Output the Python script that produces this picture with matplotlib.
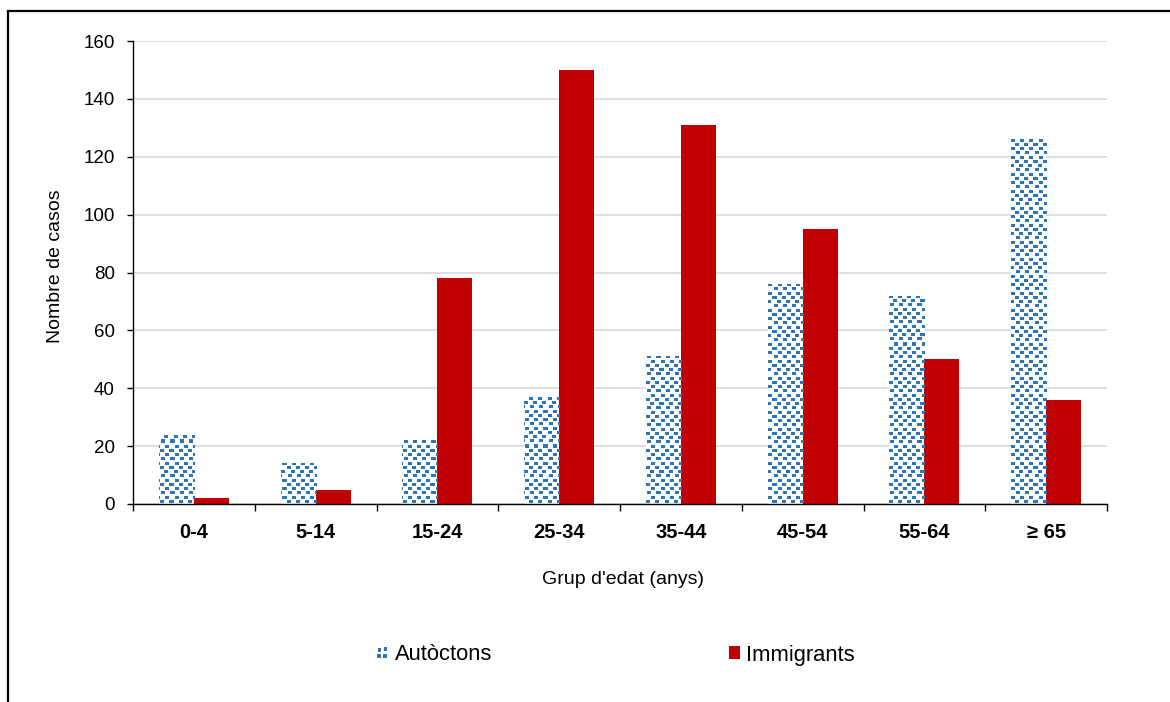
import numpy as np
import matplotlib
matplotlib.use("Agg")
import matplotlib.pyplot as plt
from matplotlib.patches import Rectangle
from matplotlib.lines import Line2D
from matplotlib.legend_handler import HandlerBase

plt.rcParams['font.family'] = ['Liberation Sans', 'DejaVu Sans']

# Cases by age group
age_groups = ['0-4', '5-14', '15-24', '25-34', '35-44', '45-54', '55-64', '≥ 65']
autoctons = [24, 14, 22, 37, 51, 76, 72, 126]
immigrants = [2, 5, 78, 150, 131, 95, 50, 36]
y_ticks = [0, 20, 40, 60, 80, 100, 120, 140, 160]

BLUE = '#2E75B6'
RED = '#C00000'

W_PX, H_PX = 1170, 702
fig = plt.figure(figsize=(W_PX / 100, H_PX / 100), dpi=100)

ax_l, ax_r, ax_t, ax_b = 133, 1107, 41, 504
ax = fig.add_axes([ax_l / W_PX, 1 - ax_b / H_PX,
                   (ax_r - ax_l) / W_PX, (ax_b - ax_t) / H_PX])

x = np.arange(len(age_groups))
bw = 0.2875

ax.set_xlim(-0.5, len(age_groups) - 0.5)
ax.set_ylim(0, 160)
ax.set_yticks(y_ticks)
ax.grid(axis='y', color='#D9D9D9', linewidth=1.2)
ax.set_axisbelow(True)

bars_a = ax.bar(x - bw / 2, autoctons, width=bw, color='white',
                edgecolor='none', zorder=2)
bars_i = ax.bar(x + bw / 2, immigrants, width=bw, color=RED,
                edgecolor='none', zorder=2)

# Staggered square texture for the native-born bars, at screen resolution
tex_w, tex_h = ax_r - ax_l, ax_b - ax_t
tex = np.zeros((tex_h, tex_w, 4))
rgb = matplotlib.colors.to_rgb(BLUE)
offsets = [0, 5, 1, 5, 0, 4, 1, 5]
row_ys = [0, 4, 8, 13, 17, 21, 25, 30]
period_y = 34
for base in range(0, tex_h, period_y):
    for r, dy in enumerate(row_ys):
        y0 = base + dy
        if y0 >= tex_h:
            break
        for x0 in range(offsets[r], tex_w, 9):
            tex[y0:y0 + 3, x0:x0 + 4, :3] = rgb
            tex[y0:y0 + 3, x0:x0 + 4, 3] = 1.0

for bar in bars_a:
    im = ax.imshow(tex, extent=(-0.5, len(age_groups) - 0.5, 0, 160),
                   origin='upper', aspect='auto', interpolation='nearest',
                   zorder=3)
    im.set_clip_path(bar)

ax.set_xlim(-0.5, len(age_groups) - 0.5)
ax.set_ylim(0, 160)

# Axes styling
for side in ['top', 'right']:
    ax.spines[side].set_visible(False)
for side in ['left', 'bottom']:
    ax.spines[side].set_color('black')
    ax.spines[side].set_linewidth(1.0)
    ax.spines[side].set_zorder(4)

ax.set_xticks(x)
ax.set_xticklabels(age_groups, fontsize=14.5, fontweight='bold')
ax.set_xticks(np.arange(-0.5, len(age_groups)), minor=True)
ax.tick_params(axis='x', which='major', length=0, pad=14)
ax.tick_params(axis='x', which='minor', length=5, width=1.0, direction='out')
ax.tick_params(axis='y', length=4, width=1.0, labelsize=13.5, pad=9)

ax.set_xlabel("Grup d'edat (anys)", fontsize=14, va='center')
ax.xaxis.set_label_coords(0.503, -0.164)
ax.set_ylabel('Nombre de casos', fontsize=14, va='center')
ax.yaxis.set_label_coords(-0.080, 0.513)


class ConfettiHandler(HandlerBase):
    def create_artists(self, legend, orig_handle, xdescent, ydescent,
                       width, height, fontsize, trans):
        s = 0.33
        spots = [(0.05, 0.55), (0.6, 0.6), (0.0, 0.05), (0.55, 0.1)]
        arts = []
        for sx, sy in spots:
            arts.append(Rectangle((-xdescent + sx * width, -ydescent + sy * height),
                                  s * width, s * height, facecolor=BLUE,
                                  edgecolor='none', transform=trans))
        return arts


h_a = Rectangle((0, 0), 1, 1, facecolor=BLUE)
h_i = Rectangle((0, 0), 1, 1, facecolor=RED, edgecolor='none')
fig.legend([h_a, h_i], ['Autòctons', 'Immigrants'], ncol=2,
           loc='center left', bbox_to_anchor=(377 / W_PX, 1 - 655 / H_PX),
           frameon=False, fontsize=15.8, borderpad=0, borderaxespad=0,
           handlelength=0.5, handleheight=0.5, handletextpad=0.3,
           columnspacing=10.8,
           handler_map={h_a: ConfettiHandler()})

# Outer frame (top and left edges)
fig.add_artist(Line2D([8 / W_PX, 1], [1 - 11 / H_PX] * 2,
                      transform=fig.transFigure, color='black', lw=1.6))
fig.add_artist(Line2D([8 / W_PX] * 2, [0, 1 - 11 / H_PX],
                      transform=fig.transFigure, color='black', lw=1.6))

fig.savefig('out.png', dpi=100)
